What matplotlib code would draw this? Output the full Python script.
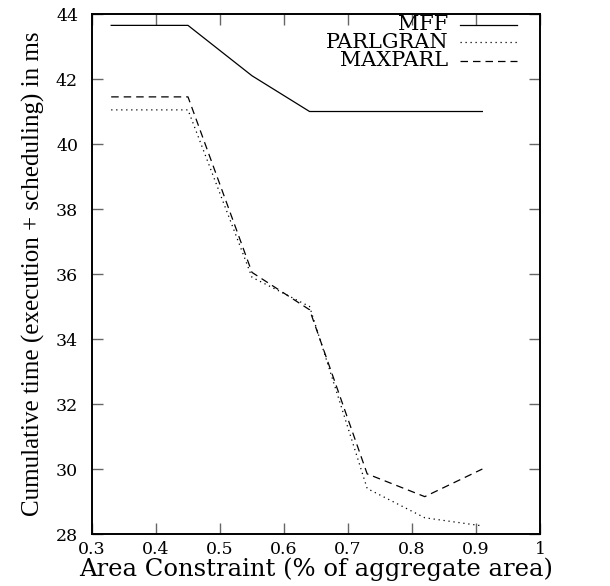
import numpy as np
import matplotlib
matplotlib.use('Agg')
import matplotlib.pyplot as plt

# data
area = [0.33, 0.45, 0.55, 0.64, 0.73, 0.82, 0.91]
mff = [43.65, 43.65, 42.1, 41.0, 41.0, 41.0, 41.0]
parlgran = [41.05, 41.05, 35.9, 35.0, 29.4, 28.5, 28.25]
maxparl = [41.45, 41.45, 36.05, 34.9, 29.85, 29.15, 30.0]

xticks = [0.3, 0.4, 0.5, 0.6, 0.7, 0.8, 0.9, 1]
xticklabels = ['0.3', '0.4', '0.5', '0.6', '0.7', '0.8', '0.9', '1']
yticks = [28, 30, 32, 34, 36, 38, 40, 42, 44]

series = [('MFF', mff, '-'),
          ('PARLGRAN', parlgran, (0, (1, 3))),
          ('MAXPARL', maxparl, (0, (6, 4)))]

fig = plt.figure(figsize=(6.1, 5.86), dpi=100)
ax = fig.add_axes([0.1508, 0.0887, 0.7344, 0.8874])

for name, vals, ls in series:
    ax.plot(area, vals, color='black', lw=0.9, ls=ls)

# gnuplot-style key: label right-aligned, sample line to its right
key_y = [0.979, 0.946, 0.910]
for (name, vals, ls), ky in zip(series, key_y):
    ax.text(0.795, ky, name, transform=ax.transAxes, ha='right', va='center',
            family='DejaVu Serif', fontsize=15)
    ax.plot([0.821, 0.949], [ky, ky], transform=ax.transAxes,
            color='black', lw=0.9, ls=ls)

ax.set_xlim(0.3, 1)
ax.set_ylim(28, 44)
ax.set_xticks(xticks)
ax.set_xticklabels(xticklabels)
ax.set_yticks(yticks)
ax.tick_params(direction='in', length=8, width=1, color='#666666',
               top=True, right=True, labelsize=12.5)
ax.tick_params(axis='x', pad=5)
ax.tick_params(axis='y', pad=10)
for lab in ax.get_xticklabels() + ax.get_yticklabels():
    lab.set_family('DejaVu Serif')
for s in ax.spines.values():
    s.set_linewidth(1.4)

ax.set_xlabel('Area Constraint (% of aggregate area)', family='DejaVu Serif',
              fontsize=17.5, labelpad=0)
ax.set_ylabel('Cumulative time (execution + scheduling) in ms',
              family='Liberation Serif', fontsize=18, labelpad=8)

fig.savefig('out.png', dpi=100)
